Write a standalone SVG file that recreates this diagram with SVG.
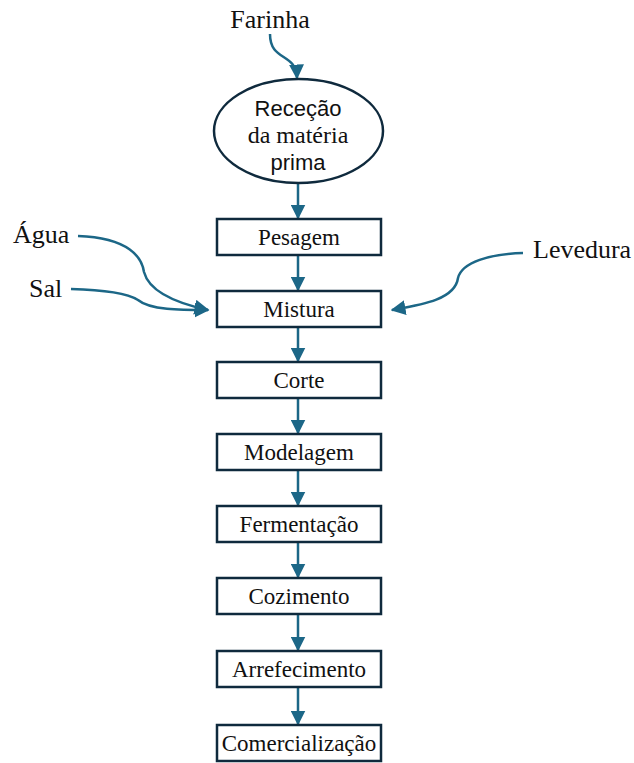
<svg xmlns="http://www.w3.org/2000/svg" width="634" height="763" viewBox="0 0 634 763">
<defs>
<marker id="ah" viewBox="0 0 10 10" refX="9" refY="5" markerWidth="6" markerHeight="6" orient="auto" markerUnits="strokeWidth"><path d="M0,0 L10,5 L0,10 z" fill="#1c6787"/></marker>
<style>
.box{fill:#fff;stroke:#0f2a3d;stroke-width:2.5}
.t{font-family:"Liberation Serif",serif;font-size:23px;fill:#111;text-anchor:middle}
.ts{font-family:"Liberation Sans",sans-serif;font-size:22px;fill:#111;text-anchor:middle}
.lab{font-family:"Liberation Serif",serif;font-size:26px;fill:#111}
.c{fill:none;stroke:#1c6787;stroke-width:2.5;marker-end:url(#ah)}
</style>
</defs>
<rect width="634" height="763" fill="#fff"/>
<g id="connectors">
<path class="c" d="M270,34 C270,62 296,52 297,78"/>
<path class="c" d="M298,184 L298,218"/>
<path class="c" d="M298,256 L298,290"/>
<path class="c" d="M298,328 L298,361"/>
<path class="c" d="M298,399 L298,433"/>
<path class="c" d="M298,471 L298,505"/>
<path class="c" d="M298,543 L298,577"/>
<path class="c" d="M298,615 L298,650"/>
<path class="c" d="M298,688 L298,724"/>
<path class="c" d="M78,236 C130,238 142,258 144,272 C150,295 185,305 208,310"/>
<path class="c" d="M71,289 C110,290 130,295 138,300 C150,310 180,310 208,310"/>
<path class="c" d="M523,253 C490,254 462,262 458,278 C455,300 420,305 392,310"/>
</g>
<g id="farinha"><text class="lab" x="270" y="28" text-anchor="middle">Farinha</text></g>
<g id="agua"><text class="lab" x="13" y="243">Água</text></g>
<g id="sal"><text class="lab" x="29" y="297">Sal</text></g>
<g id="levedura"><text class="lab" x="533" y="258">Levedura</text></g>
<g id="rececao">
<ellipse cx="298.5" cy="131" rx="84.5" ry="52" fill="#fff" stroke="#0f2a3d" stroke-width="2.5"/>
<text class="ts" x="298" y="116">Receção</text>
<text class="t" x="298" y="143" style="font-size:24px">da matéria</text>
<text class="ts" x="298" y="170">prima</text>
</g>
<g id="pesagem"><rect class="box" x="217" y="219" width="164" height="36"/><text class="t" x="299" y="245">Pesagem</text></g>
<g id="mistura"><rect class="box" x="217" y="291" width="164" height="36"/><text class="t" x="299" y="317">Mistura</text></g>
<g id="corte"><rect class="box" x="217" y="362" width="164" height="36"/><text class="t" x="299" y="388">Corte</text></g>
<g id="modelagem"><rect class="box" x="217" y="434" width="164" height="36"/><text class="t" x="299" y="460">Modelagem</text></g>
<g id="fermentacao"><rect class="box" x="217" y="506" width="164" height="36"/><text class="t" x="299" y="532">Fermentação</text></g>
<g id="cozimento"><rect class="box" x="217" y="578" width="164" height="36"/><text class="t" x="299" y="604">Cozimento</text></g>
<g id="arrefecimento"><rect class="box" x="217" y="651" width="164" height="36"/><text class="t" x="299" y="677">Arrefecimento</text></g>
<g id="comercializacao"><rect class="box" x="217" y="725" width="164" height="36"/><text class="t" x="299" y="751">Comercialização</text></g>
</svg>
